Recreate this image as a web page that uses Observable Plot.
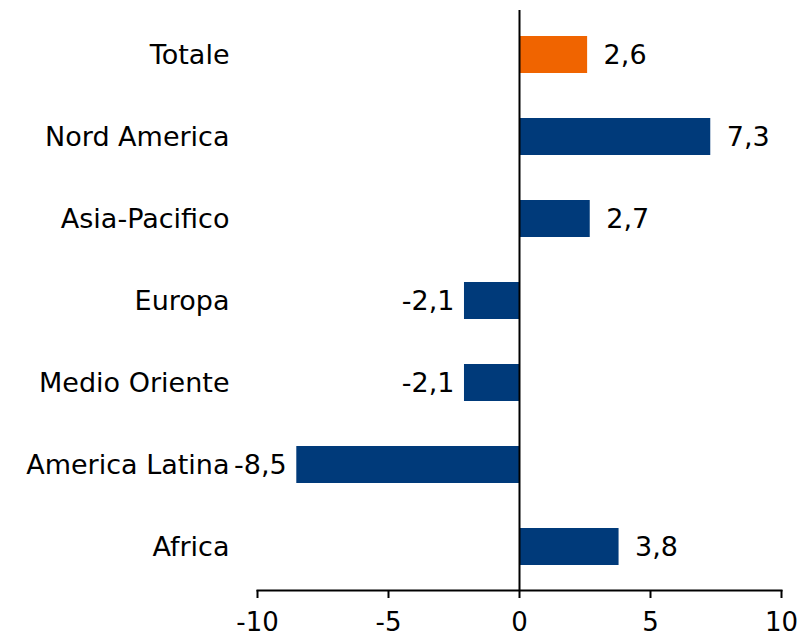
<!DOCTYPE html>
<html>
<head>
<meta charset="utf-8">
<script src="https://cdn.jsdelivr.net/npm/d3@7"></script>
<script src="https://cdn.jsdelivr.net/npm/@observablehq/plot@0.6"></script>
<style>
  html, body { margin: 0; padding: 0; background: #fff; }
  #chart svg { display: block; }
</style>
</head>
<body>
<div id="chart"></div>
<script>
const categories = ["Totale", "Nord America", "Asia-Pacifico", "Europa", "Medio Oriente", "America Latina", "Africa"];
const values = [2.6, 7.3, 2.7, -2.1, -2.1, -8.5, 3.8];
const highlight = ["Totale"];
const xTicks = [-10, -5, 0, 5, 10];

const data = categories.map((c, i) => ({category: c, value: values[i], hl: highlight.includes(c)}));
const fmt = v => v.toFixed(1).replace(".", ",");
const FONT = "DejaVu Sans, sans-serif";

const chart = Plot.plot({
  width: 798,
  height: 639,
  marginLeft: 257,
  marginRight: 17,
  marginTop: 10,
  marginBottom: 49,
  style: {fontFamily: FONT, fontSize: "27px", color: "#000", background: "#fff"},
  x: {domain: [-10, 10], ticks: xTicks},
  y: {domain: categories, paddingInner: 0.55, paddingOuter: 0.275},
  marks: [
    Plot.barX(data, {x: "value", y: "category", fill: d => d.hl ? "#F06400" : "#003A7A"}),
    Plot.ruleX([0], {stroke: "#000", strokeWidth: 2}),
    Plot.frame({anchor: "bottom", stroke: "#000", strokeWidth: 2}),
    Plot.axisX({ticks: xTicks, tickSize: 8, tickPadding: 14, tickFormat: d => String(d), stroke: "#000", strokeWidth: 2, fontSize: 26, label: null}),
    Plot.axisY({tickSize: 0, tickPadding: 28, fontSize: 27, label: null}),
    Plot.text(data.filter(d => d.value >= 0), {x: "value", y: "category", text: d => fmt(d.value), dx: 16, textAnchor: "start", fontSize: 27, fill: "#000"}),
    Plot.text(data.filter(d => d.value < 0), {x: "value", y: "category", text: d => fmt(d.value), dx: -10, textAnchor: "end", fontSize: 27, fill: "#000"})
  ]
});
document.getElementById("chart").appendChild(chart);
</script>
</body>
</html>
